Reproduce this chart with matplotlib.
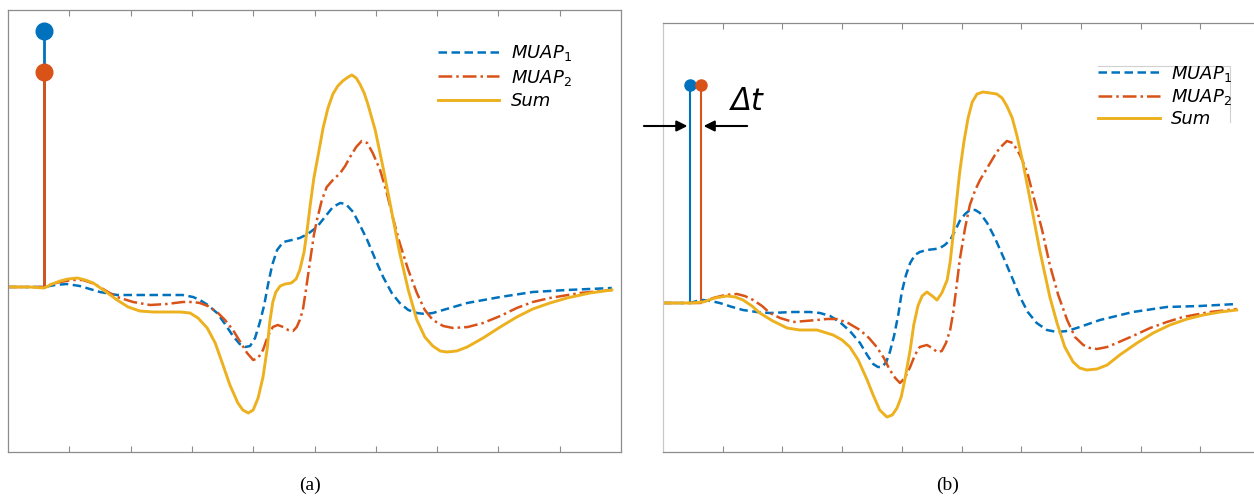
import matplotlib
matplotlib.use('Agg')
import matplotlib.pyplot as plt
from matplotlib.lines import Line2D

plt.rcParams['font.family'] = ['DejaVu Sans']
plt.rcParams['mathtext.default'] = 'it'

# colours (MATLAB default order)
C_BLUE = '#0072BD'
C_ORANGE = '#D95319'
C_YELLOW = '#EDB120'

# ---------------- panel (a): MUAPs fired at the same instant ----------------
a_stem_t = 0.59
a_stem_h1 = 2.56
a_stem_h2 = 2.15

a_t1 = [0, 0.36, 0.59, 0.77, 0.96, 1.17, 1.50, 1.78, 2.32, 2.64, 2.85, 3.02, 3.13, 3.26,
        3.41, 3.54, 3.67, 3.78, 3.87, 3.95, 4.03, 4.11, 4.18, 4.24, 4.31, 4.39, 4.49,
        4.63, 4.76, 4.89, 5.04, 5.17, 5.30, 5.42, 5.51, 5.63, 5.74, 5.86, 5.99, 6.12,
        6.26, 6.39, 6.53, 6.67, 6.80, 6.93, 7.21, 7.49, 8.03, 8.56, 9.12, 9.85]
a_y1 = [0, 0, 0, 0.02, 0.03, 0.01, -0.05, -0.08, -0.08, -0.08, -0.08, -0.10, -0.13, -0.18,
        -0.26, -0.37, -0.49, -0.57, -0.60, -0.59, -0.51, -0.35, -0.18, 0.02, 0.22, 0.37, 0.45,
        0.47, 0.49, 0.53, 0.60, 0.70, 0.80, 0.84, 0.83, 0.75, 0.62, 0.47, 0.28, 0.10,
        -0.06, -0.16, -0.23, -0.26, -0.27, -0.26, -0.21, -0.16, -0.10, -0.05, -0.03, -0.01]

a_t2 = [0, 0.36, 0.59, 0.72, 0.85, 1.04, 1.22, 1.37, 1.50, 1.63, 1.78, 2.04, 2.32, 2.59,
        2.85, 3.02, 3.13, 3.26, 3.41, 3.54, 3.67, 3.78, 3.90, 4.00, 4.08, 4.16, 4.24,
        4.32, 4.40, 4.49, 4.57, 4.65, 4.71, 4.76, 4.81, 4.86, 4.93, 4.99, 5.04, 5.12,
        5.20, 5.30, 5.42, 5.50, 5.58, 5.68, 5.77, 5.86, 5.95, 6.07, 6.18, 6.28, 6.39,
        6.53, 6.67, 6.80, 6.93, 7.10, 7.26, 7.50, 7.75, 8.03, 8.30, 8.56, 8.84, 9.33, 9.85]
a_y2 = [0, 0, 0, 0.03, 0.05, 0.07, 0.07, 0.04, 0, -0.05, -0.10, -0.15, -0.18, -0.17,
        -0.15, -0.15, -0.16, -0.19, -0.25, -0.33, -0.43, -0.54, -0.66, -0.73, -0.71, -0.63, -0.49,
        -0.40, -0.38, -0.40, -0.43, -0.44, -0.40, -0.33, -0.23, -0.03, 0.27, 0.52, 0.67, 0.87,
        1.00, 1.07, 1.14, 1.21, 1.30, 1.40, 1.46, 1.44, 1.34, 1.17, 0.94, 0.69, 0.44,
        0.17, -0.06, -0.23, -0.33, -0.39, -0.41, -0.40, -0.36, -0.29, -0.21, -0.15, -0.11, -0.06, -0.03]

a_ts = [0, 0.36, 0.59, 0.72, 0.85, 0.98, 1.13, 1.26, 1.39, 1.58, 1.78, 1.96, 2.15, 2.37,
        2.59, 2.81, 2.97, 3.10, 3.25, 3.38, 3.49, 3.62, 3.75, 3.83, 3.92, 4.00, 4.08,
        4.16, 4.23, 4.27, 4.32, 4.37, 4.44, 4.52, 4.62, 4.70, 4.76, 4.83, 4.88, 4.93,
        4.99, 5.06, 5.14, 5.22, 5.30, 5.38, 5.46, 5.55, 5.61, 5.68, 5.74, 5.81, 5.87,
        5.99, 6.12, 6.26, 6.39, 6.53, 6.67, 6.80, 6.93, 7.05, 7.16, 7.32, 7.49, 7.75,
        8.03, 8.30, 8.56, 8.84, 9.12, 9.49, 9.85]
a_ys = [0, 0, -0.01, 0.03, 0.06, 0.08, 0.09, 0.07, 0.04, -0.04, -0.13, -0.20, -0.24, -0.25,
        -0.25, -0.25, -0.26, -0.31, -0.41, -0.56, -0.75, -0.98, -1.16, -1.23, -1.26, -1.23, -1.11,
        -0.90, -0.61, -0.35, -0.15, -0.05, 0.01, 0.03, 0.04, 0.08, 0.17, 0.35, 0.57, 0.82,
        1.09, 1.32, 1.59, 1.79, 1.93, 2.01, 2.06, 2.10, 2.12, 2.09, 2.03, 1.94, 1.83,
        1.57, 1.19, 0.75, 0.34, -0.03, -0.33, -0.50, -0.59, -0.64, -0.65, -0.64, -0.60, -0.51,
        -0.40, -0.30, -0.22, -0.16, -0.11, -0.06, -0.03]

# ---------------- panel (b): second MUAP delayed by dt ----------------
b_stem_t1 = 0.45
b_stem_t2 = 0.63
b_stem_h = 2.18

b_t1 = [0, 0.28, 0.45, 0.57, 0.67, 0.80, 0.95, 1.16, 1.34, 1.57, 1.79, 2.18, 2.46, 2.63,
        2.80, 2.96, 3.13, 3.30, 3.42, 3.52, 3.60, 3.67, 3.74, 3.80, 3.87, 3.94, 4.00,
        4.07, 4.14, 4.22, 4.30, 4.42, 4.56, 4.64, 4.72, 4.81, 4.89, 4.97, 5.06, 5.14,
        5.23, 5.31, 5.43, 5.56, 5.70, 5.85, 5.98, 6.11, 6.26, 6.43, 6.60, 6.77, 6.93,
        7.32, 7.87, 8.44, 8.99, 9.61]
b_y1 = [0, 0, 0, 0.02, 0.03, 0.02, 0, -0.04, -0.07, -0.09, -0.10, -0.09, -0.09, -0.10,
        -0.13, -0.19, -0.28, -0.40, -0.52, -0.61, -0.64, -0.64, -0.59, -0.49, -0.33, -0.12, 0.11,
        0.28, 0.40, 0.48, 0.51, 0.53, 0.54, 0.55, 0.58, 0.63, 0.72, 0.82, 0.89, 0.93,
        0.93, 0.90, 0.80, 0.65, 0.46, 0.25, 0.06, -0.09, -0.20, -0.27, -0.29, -0.28, -0.25,
        -0.17, -0.09, -0.04, -0.03, -0.01]

b_t2 = [0, 0.45, 0.62, 0.72, 0.84, 1.04, 1.24, 1.37, 1.51, 1.66, 1.79, 1.96, 2.18, 2.38,
        2.58, 2.75, 2.91, 3.10, 3.30, 3.45, 3.58, 3.70, 3.80, 3.89, 3.97, 4.05, 4.14,
        4.22, 4.30, 4.42, 4.51, 4.59, 4.67, 4.74, 4.81, 4.86, 4.92, 4.97, 5.06, 5.14,
        5.23, 5.31, 5.39, 5.48, 5.56, 5.64, 5.76, 5.86, 5.98, 6.10, 6.20, 6.35, 6.48,
        6.62, 6.77, 6.90, 7.04, 7.15, 7.27, 7.44, 7.60, 7.87, 8.16, 8.44, 8.71, 9.16, 9.61]
b_y2 = [0, 0, 0, 0.02, 0.05, 0.08, 0.09, 0.07, 0.03, -0.03, -0.10, -0.15, -0.19, -0.18,
        -0.17, -0.16, -0.16, -0.20, -0.27, -0.35, -0.44, -0.55, -0.67, -0.75, -0.80, -0.75, -0.64,
        -0.52, -0.44, -0.42, -0.45, -0.49, -0.48, -0.40, -0.27, -0.10, 0.18, 0.43, 0.75, 0.98,
        1.13, 1.23, 1.31, 1.40, 1.48, 1.55, 1.62, 1.60, 1.48, 1.31, 1.08, 0.73, 0.38,
        0.08, -0.17, -0.34, -0.42, -0.45, -0.46, -0.44, -0.40, -0.33, -0.25, -0.19, -0.14, -0.09, -0.06]

b_ts = [0, 0.45, 0.67, 0.87, 1.07, 1.21, 1.34, 1.49, 1.62, 1.84, 2.08, 2.29, 2.58, 2.85,
        3.00, 3.13, 3.27, 3.42, 3.52, 3.63, 3.75, 3.84, 3.92, 3.99, 4.05, 4.14, 4.20,
        4.27, 4.34, 4.42, 4.51, 4.59, 4.67, 4.76, 4.81, 4.86, 4.92, 4.97, 5.04, 5.11,
        5.18, 5.26, 5.36, 5.48, 5.59, 5.68, 5.76, 5.85, 5.93, 6.03, 6.15, 6.23, 6.31,
        6.40, 6.48, 6.60, 6.73, 6.87, 6.98, 7.10, 7.27, 7.44, 7.65, 7.94, 8.21, 8.49,
        8.78, 9.05, 9.33, 9.61]
b_ys = [0, 0, 0.01, 0.05, 0.07, 0.06, 0.03, -0.03, -0.10, -0.18, -0.25, -0.27, -0.27, -0.32,
        -0.37, -0.44, -0.57, -0.77, -0.92, -1.07, -1.14, -1.12, -1.05, -0.94, -0.77, -0.47, -0.22,
        -0.03, 0.07, 0.11, 0.07, 0.03, 0.10, 0.23, 0.41, 0.68, 1.03, 1.31, 1.61, 1.85,
        2.01, 2.09, 2.11, 2.10, 2.09, 2.05, 1.97, 1.85, 1.67, 1.40, 1.03, 0.78, 0.53,
        0.28, 0.06, -0.20, -0.44, -0.59, -0.65, -0.67, -0.66, -0.62, -0.52, -0.40, -0.30, -0.22,
        -0.16, -0.12, -0.09, -0.07]

labels = ['MUAP$_1$', 'MUAP$_2$', 'Sum']

LW = 1.8
DASH = (0, (3.4, 1.8))
DASHDOT = (0, (5.5, 1.6, 1.0, 1.6))
line_kw = dict(solid_joinstyle='round', dash_joinstyle='round')

fig = plt.figure(figsize=(12.54, 5.0), dpi=100)
ax_a = fig.add_axes([8 / 1254, 48 / 500, 613 / 1254, 442 / 500])
ax_b = fig.add_axes([663 / 1254, 48 / 500, 597 / 1254, 429 / 500])


def style_axes(ax, left_color):
    for side in ['top', 'bottom', 'right']:
        ax.spines[side].set_color('#8c8c8c')
        ax.spines[side].set_linewidth(0.9)
    ax.spines['left'].set_color(left_color)
    ax.spines['left'].set_linewidth(0.9)
    ax.set_xlim(0, 10)
    ax.set_xticks(range(1, 10))
    ax.set_yticks([])
    ax.tick_params(axis='x', direction='in', length=4, width=0.8, colors='#8c8c8c',
                   top=True, bottom=True, labelbottom=False)


# panel (a)
ax_a.plot([a_stem_t, a_stem_t], [0, a_stem_h1], color=C_BLUE, lw=2.0)
ax_a.plot(a_stem_t, a_stem_h1, 'o', color=C_BLUE, ms=12)
ax_a.plot([a_stem_t, a_stem_t], [0, a_stem_h2], color=C_ORANGE, lw=2.0)
ax_a.plot(a_stem_t, a_stem_h2, 'o', color=C_ORANGE, ms=12)
ax_a.plot(a_t1, a_y1, color=C_BLUE, lw=LW, linestyle=DASH, **line_kw)
ax_a.plot(a_t2, a_y2, color=C_ORANGE, lw=LW, linestyle=DASHDOT, **line_kw)
ax_a.plot(a_ts, a_ys, color=C_YELLOW, lw=LW + 0.3, **line_kw)
ax_a.set_ylim(-1.65, 2.77)
style_axes(ax_a, '#8c8c8c')

# panel (b)
ax_b.plot([b_stem_t1, b_stem_t1], [0, b_stem_h], color=C_BLUE, lw=1.5)
ax_b.plot(b_stem_t1, b_stem_h, 'o', color=C_BLUE, ms=8)
ax_b.plot([b_stem_t2, b_stem_t2], [0, b_stem_h], color=C_ORANGE, lw=1.5)
ax_b.plot(b_stem_t2, b_stem_h, 'o', color=C_ORANGE, ms=8)
ax_b.plot(b_t1, b_y1, color=C_BLUE, lw=LW, linestyle=DASH, **line_kw)
ax_b.plot(b_t2, b_y2, color=C_ORANGE, lw=LW, linestyle=DASHDOT, **line_kw)
ax_b.plot(b_ts, b_ys, color=C_YELLOW, lw=LW + 0.3, **line_kw)
ax_b.set_ylim(-1.49, 2.80)
style_axes(ax_b, '#c8c8c8')

# dt arrows
ax_b.annotate('', xy=(0.41, 1.77), xytext=(-0.32, 1.77), annotation_clip=False,
              arrowprops=dict(arrowstyle='-|>', color='black', lw=1.5,
                              mutation_scale=16, shrinkA=0, shrinkB=0))
ax_b.annotate('', xy=(0.68, 1.77), xytext=(1.41, 1.77), annotation_clip=False,
              arrowprops=dict(arrowstyle='-|>', color='black', lw=1.5,
                              mutation_scale=16, shrinkA=0, shrinkB=0))
ax_b.text(1.13, 2.01, '\u0394t', fontsize=22, style='italic', ha='left', va='center')

# legends
handles = [Line2D([], [], color=C_BLUE, lw=LW, linestyle=DASH),
           Line2D([], [], color=C_ORANGE, lw=LW, linestyle=DASHDOT),
           Line2D([], [], color=C_YELLOW, lw=LW + 0.3)]
for ax, anchor, spacing in [(ax_a, (0.701, 0.925), 0.25), (ax_b, (0.729, 0.905), 0.18)]:
    ax.legend(handles, labels, loc='upper left', bbox_to_anchor=anchor, frameon=False,
              borderpad=0, borderaxespad=0, handlelength=3.4, handletextpad=0.65,
              labelspacing=spacing, prop={'size': 13, 'style': 'italic'})

# partial legend frame seen in (b)
ax_b.plot([0.729, 0.950, 0.950], [0.900, 0.900, 0.769], color='#d0d0d0', lw=0.8,
          transform=ax_b.transAxes, clip_on=False)

fig.text(310 / 1254, 1 - 485 / 500, '(a)', fontsize=14, family='Liberation Serif',
         ha='center', va='center')
fig.text(948 / 1254, 1 - 485 / 500, '(b)', fontsize=14, family='Liberation Serif',
         ha='center', va='center')

fig.savefig('out.png', dpi=100)
